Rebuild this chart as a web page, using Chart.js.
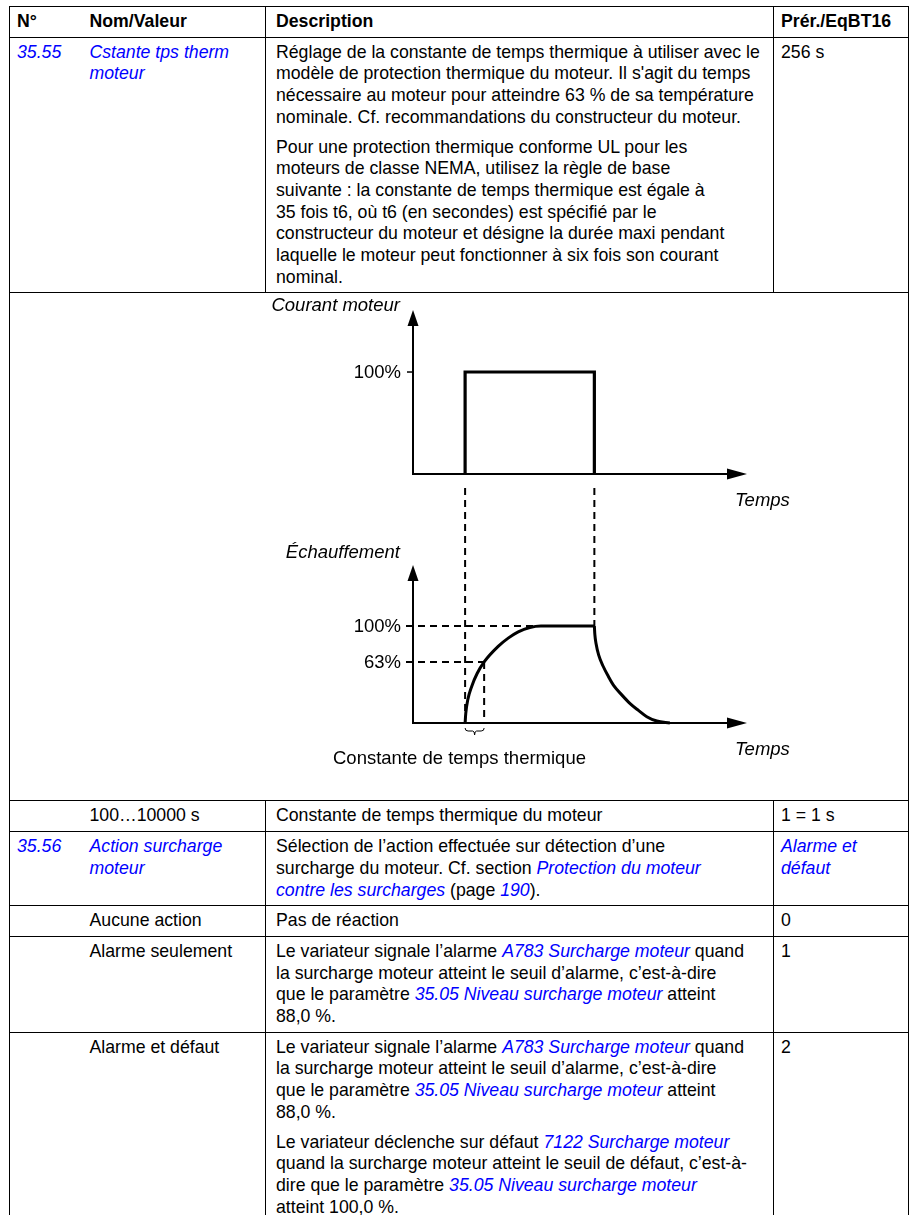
<!DOCTYPE html>
<html lang="fr">
<head>
<meta charset="utf-8">
<title>35.55 Cstante tps therm moteur</title>
<script src="https://cdn.jsdelivr.net/npm/chart.js@4.4.1/dist/chart.umd.min.js"></script>
<style>
    html, body { margin: 0; padding: 0; background: #fff; }
    body {
        width: 916px; height: 1215px; overflow: hidden; position: relative;
        font-family: "Liberation Sans", Arial, sans-serif; font-size: 17.7px; color: #000;
    }
    table {
        position: absolute; left: 9px; top: 6px; width: 899px;
        border-collapse: collapse; table-layout: fixed;
    }
    td, th {
        border: 1px solid #000; padding: 4px 7px; line-height: 21.7px;
        vertical-align: top; white-space: nowrap; text-align: left;
    }
    th { font-weight: bold; }
    .c1 { border-right: none; }
    .c2 { border-left: none; }
    .c3 { padding-left: 10px; }
    .lien { color: #0000ff; font-style: italic; }
    p { margin: 0; }
    p + p { margin-top: 8px; }
    td.diag { padding: 0; height: 507px; }
    #zone { position: relative; height: 507px; }
    #diagramme { position: absolute; left: 0; top: 0; }
</style>
</head>
<body>
<table>
    <colgroup>
        <col style="width:73px"><col style="width:183px"><col style="width:508px"><col style="width:135px">
    </colgroup>
    <tr><th class="c1">N°</th><th class="c2">Nom/Valeur</th><th class="c3">Description</th><th>Prér./EqBT16</th></tr>
    <tr>
        <td class="c1"><span class="lien">35.55</span></td>
        <td class="c2"><span class="lien">Cstante tps therm<br>moteur</span></td>
        <td class="c3">
            <p>Réglage de la constante de temps thermique à utiliser avec le<br>modèle de protection thermique du moteur. Il s'agit du temps<br>nécessaire au moteur pour atteindre 63 % de sa température<br>nominale. Cf. recommandations du constructeur du moteur.</p>
            <p>Pour une protection thermique conforme UL pour les<br>moteurs de classe NEMA, utilisez la règle de base<br>suivante : la constante de temps thermique est égale à<br>35 fois t6, où t6 (en secondes) est spécifié par le<br>constructeur du moteur et désigne la durée maxi pendant<br>laquelle le moteur peut fonctionner à six fois son courant<br>nominal.</p>
        </td>
        <td>256 s</td>
    </tr>
    <tr><td colspan="4" class="diag"><div id="zone"><canvas id="diagramme" width="896" height="507"></canvas></div></td></tr>
    <tr><td class="c1"></td><td class="c2">100…10000 s</td><td class="c3">Constante de temps thermique du moteur</td><td>1 = 1 s</td></tr>
    <tr>
        <td class="c1"><span class="lien">35.56</span></td>
        <td class="c2"><span class="lien">Action surcharge<br>moteur</span></td>
        <td class="c3">Sélection de l’action effectuée sur détection d’une<br>surcharge du moteur. Cf. section <span class="lien">Protection du moteur</span><br><span class="lien">contre les surcharges</span> (page <span class="lien">190</span>).</td>
        <td><span class="lien">Alarme et<br>défaut</span></td>
    </tr>
    <tr><td class="c1"></td><td class="c2">Aucune action</td><td class="c3">Pas de réaction</td><td>0</td></tr>
    <tr>
        <td class="c1"></td><td class="c2">Alarme seulement</td>
        <td class="c3">Le variateur signale l’alarme <span class="lien">A783 Surcharge moteur</span> quand<br>la surcharge moteur atteint le seuil d’alarme, c’est-à-dire<br>que le paramètre <span class="lien">35.05 Niveau surcharge moteur</span> atteint<br>88,0 %.</td>
        <td>1</td>
    </tr>
    <tr>
        <td class="c1"></td><td class="c2">Alarme et défaut</td>
        <td class="c3">
            <p>Le variateur signale l’alarme <span class="lien">A783 Surcharge moteur</span> quand<br>la surcharge moteur atteint le seuil d’alarme, c’est-à-dire<br>que le paramètre <span class="lien">35.05 Niveau surcharge moteur</span> atteint<br>88,0 %.</p>
            <p>Le variateur déclenche sur défaut <span class="lien">7122 Surcharge moteur</span><br>quand la surcharge moteur atteint le seuil de défaut, c’est-à-<br>dire que le paramètre <span class="lien">35.05 Niveau surcharge moteur</span><br>atteint 100,0 %.</p>
        </td>
        <td>2</td>
    </tr>
</table>

<script>
const tempsCourant = [15.6, 15.6, 54.3, 54.3];
const courantMoteur = [0, 100, 100, 0];

// Montée puis palier de l'échauffement
const tempsMontee = [15.6, 15.8, 16.4, 17.6, 19.2, 21.3, 25.5, 28.5, 31.5, 35.0, 38.3, 54.3];
const echauffementMontee = [0, 10, 24, 38, 51, 63, 79, 87.5, 94, 98.5, 100, 100];

// Refroidissement après coupure du courant
const tempsDescente = [54.3, 54.45, 54.8, 55.6, 57.0, 58.5, 60.0, 62.5, 65.0, 67.5, 70.0, 73.0, 76.9];
const echauffementDescente = [100, 91, 82, 70, 58, 48, 39, 29, 20, 13, 6.5, 2, 0];

const niveauxCourant = [100];
const niveauxEchauffement = [100, 63];
const etiquettesCourant = ['100%'];
const etiquettesEchauffement = ['100%', '63%'];

// Repères temporels
const debutCharge = 15.6;
const finCharge = 54.3;
const constanteTemps = 21.3;
const atteinte100 = 38.3;
const flecheEchauffement = 163; // pointe de l'axe vertical du bas

const POLICE = '"Liberation Sans", Arial, sans-serif';

function versPoints(xs, ys) {
    return xs.map((x, i) => ({ x: x, y: ys[i] }));
}

function fleches(ctx, x0, y0, xt, yt) {
    ctx.lineWidth = 2;
    ctx.beginPath();
    ctx.moveTo(x0, y0 + 1);
    ctx.lineTo(x0, yt + 12);
    ctx.moveTo(x0 - 1, y0);
    ctx.lineTo(xt - 16, y0);
    ctx.stroke();
    // pointes
    ctx.beginPath();
    ctx.moveTo(x0, yt);
    ctx.lineTo(x0 - 5.5, yt + 16);
    ctx.lineTo(x0 + 5.5, yt + 16);
    ctx.closePath();
    ctx.fill();
    ctx.beginPath();
    ctx.moveTo(xt, y0);
    ctx.lineTo(xt - 20, y0 - 5.5);
    ctx.lineTo(xt - 20, y0 + 5.5);
    ctx.closePath();
    ctx.fill();
}

function tiret(ctx, xa, ya, xb, yb) {
    ctx.save();
    ctx.lineWidth = 2;
    ctx.setLineDash([7, 5]);
    ctx.beginPath();
    ctx.moveTo(xa, ya);
    ctx.lineTo(xb, yb);
    ctx.stroke();
    ctx.restore();
}

const dessinSchema = {
    id: 'dessinSchema',
    beforeDatasetsDraw(chart) {
        const { ctx, scales } = chart;
        const x = scales.x, yH = scales.yHaut, yB = scales.yBas;
        const x0 = x.getPixelForValue(0);
        const xt = x.getPixelForValue(x.max);
        const y0H = yH.getPixelForValue(0);
        const y0B = yB.getPixelForValue(0);

        ctx.save();
        ctx.strokeStyle = '#000';
        ctx.fillStyle = '#000';

        // Axes avec flèches
        fleches(ctx, x0, y0H, xt, yH.getPixelForValue(yH.max));
        fleches(ctx, x0, y0B, xt, yB.getPixelForValue(flecheEchauffement));

        // Graduation et étiquettes du courant
        ctx.font = '18.5px ' + POLICE;
        ctx.textAlign = 'right';
        ctx.textBaseline = 'middle';
        niveauxCourant.forEach((v, i) => {
            const py = yH.getPixelForValue(v);
            ctx.lineWidth = 1.5;
            ctx.beginPath();
            ctx.moveTo(x0 - 6, py);
            ctx.lineTo(x0, py);
            ctx.stroke();
            ctx.fillText(etiquettesCourant[i], x0 - 12, py + 1);
        });

        // Niveaux de l'échauffement (traits pointillés jusqu'à la courbe)
        const finNiveaux = [atteinte100, constanteTemps];
        niveauxEchauffement.forEach((v, i) => {
            const py = yB.getPixelForValue(v);
            tiret(ctx, x0 - 7, py, x.getPixelForValue(finNiveaux[i]), py);
            ctx.fillText(etiquettesEchauffement[i], x0 - 12, py + 1);
        });

        // Verticales pointillées
        const sousAxe = y0H + 14;
        tiret(ctx, x.getPixelForValue(debutCharge), sousAxe, x.getPixelForValue(debutCharge), y0B);
        tiret(ctx, x.getPixelForValue(finCharge), sousAxe, x.getPixelForValue(finCharge), yB.getPixelForValue(100));
        tiret(ctx, x.getPixelForValue(constanteTemps), yB.getPixelForValue(63), x.getPixelForValue(constanteTemps), y0B);

        // Accolade sous la constante de temps
        const a = x.getPixelForValue(debutCharge), b = x.getPixelForValue(constanteTemps), m = (a + b) / 2;
        ctx.lineWidth = 1;
        ctx.beginPath();
        ctx.moveTo(a, y0B + 5);
        ctx.quadraticCurveTo(a, y0B + 8, a + 3, y0B + 8);
        ctx.lineTo(m - 2, y0B + 8);
        ctx.quadraticCurveTo(m, y0B + 8, m, y0B + 12);
        ctx.quadraticCurveTo(m, y0B + 8, m + 2, y0B + 8);
        ctx.lineTo(b - 3, y0B + 8);
        ctx.quadraticCurveTo(b, y0B + 8, b, y0B + 5);
        ctx.stroke();

        // Titres des axes
        ctx.font = 'italic 18.5px ' + POLICE;
        ctx.textAlign = 'right';
        ctx.fillText('Courant moteur', x0 - 13, yH.getPixelForValue(yH.max) - 4);
        ctx.fillText('Échauffement', x0 - 13, yB.getPixelForValue(flecheEchauffement) - 12);
        ctx.textAlign = 'left';
        ctx.fillText('Temps', xt - 12, y0H + 27);
        ctx.fillText('Temps', xt - 12, y0B + 27);

        ctx.font = '18.5px ' + POLICE;
        ctx.fillText('Constante de temps thermique', x0 - 80, y0B + 36);

        ctx.restore();
    }
};

const ctx = document.getElementById('diagramme').getContext('2d');

const styleCourbe = {
    yAxisID: 'yBas',
    borderColor: '#000',
    borderWidth: 3,
    pointRadius: 0,
    cubicInterpolationMode: 'monotone',
    clip: false
};

const schema = new Chart(ctx, {
    type: 'line',
    data: {
        datasets: [
            {
                label: 'Courant moteur',
                data: versPoints(tempsCourant, courantMoteur),
                yAxisID: 'yHaut',
                borderColor: '#000',
                borderWidth: 3.2,
                borderJoinStyle: 'miter',
                pointRadius: 0,
                tension: 0,
                clip: false
            },
            Object.assign({ label: 'Échauffement (montée)', data: versPoints(tempsMontee, echauffementMontee) }, styleCourbe),
            Object.assign({ label: 'Échauffement (descente)', data: versPoints(tempsDescente, echauffementDescente) }, styleCourbe)
        ]
    },
    options: {
        responsive: false,
        animation: false,
        layout: { padding: { left: 403, right: 159, top: 17, bottom: 77 } },
        plugins: {
            legend: { display: false },
            tooltip: { enabled: false }
        },
        scales: {
            x: { type: 'linear', min: 0, max: 100, display: false },
            // échelle du haut : 0 % à y=474, 100 % à y=372 (page)
            yHaut: { type: 'linear', min: -244.1, max: 160.8, display: false },
            // échelle du bas : 0 % à y=723, 100 % à y=626 (page)
            yBas: { type: 'linear', min: 0, max: 425.8, display: false }
        }
    },
    plugins: [dessinSchema]
});
</script>
</body>
</html>
